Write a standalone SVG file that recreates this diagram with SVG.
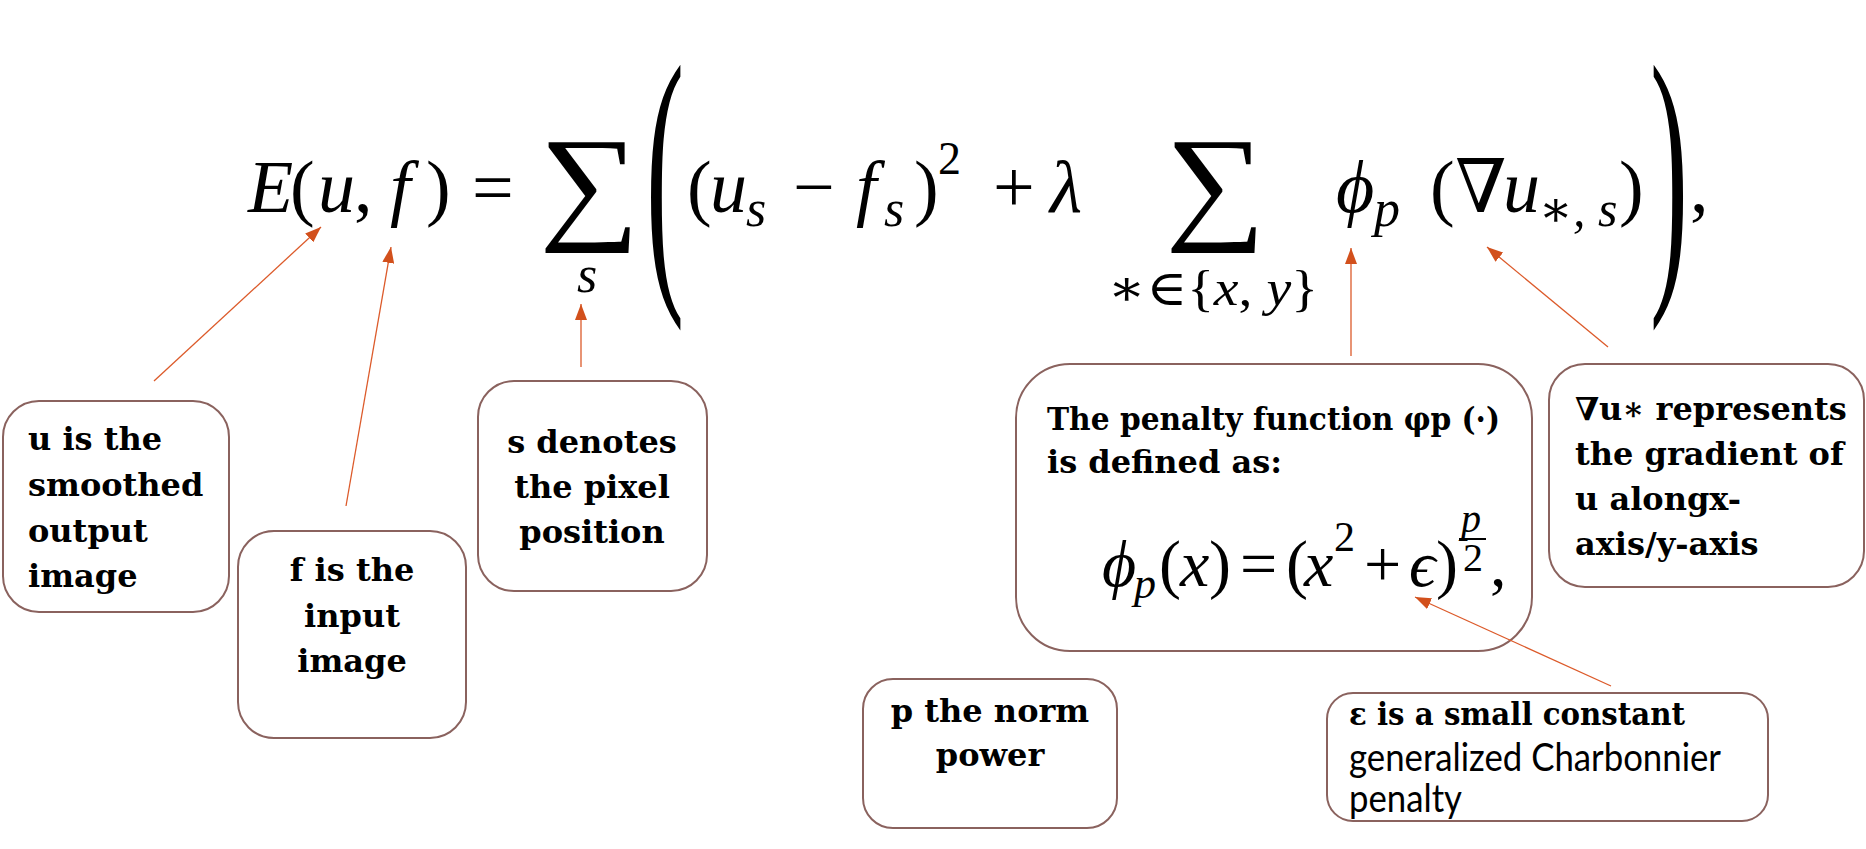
<svg xmlns="http://www.w3.org/2000/svg" width="1866" height="849" viewBox="0 0 1866 849">
<style>
.box{fill:#fff;stroke:#8a625e;stroke-width:2}
.lbl{font-family:"DejaVu Serif",serif;font-size:32px;font-weight:bold;fill:#000}
.sans{font-family:"Lato","Open Sans",sans-serif;font-size:38px;fill:#000}
.m{font-family:"Liberation Serif","DejaVu Serif",serif;fill:#000}
.i{font-style:italic}
.conn{stroke:#dc5a2a;stroke-width:1.3;fill:none;marker-end:url(#ah)}
</style>
<defs>
<marker id="ah" viewBox="0 0 16 12" refX="16" refY="6" markerWidth="16" markerHeight="12" markerUnits="userSpaceOnUse" orient="auto">
<path d="M0,0 L16,6 L0,12 z" fill="#d2501c"/>
</marker>
</defs>
<rect width="1866" height="849" fill="#fff"/>

<g id="formula" class="m">
<text font-size="74" y="212">
<tspan class="i" x="248">E</tspan><tspan x="290">(</tspan><tspan class="i" x="318">u</tspan><tspan x="354">,</tspan><tspan class="i" x="390">f</tspan><tspan x="426">)</tspan><tspan x="472">=</tspan>
<tspan x="687">(</tspan><tspan class="i" x="710">u</tspan><tspan x="793">−</tspan><tspan class="i" x="856">f</tspan><tspan x="914">)</tspan><tspan x="993">+</tspan><tspan class="i" x="1050">λ</tspan>
<tspan class="i" x="1336">ϕ</tspan><tspan x="1430">(</tspan><tspan x="1455">∇</tspan><tspan class="i" x="1503">u</tspan><tspan x="1619">)</tspan><tspan x="1690">,</tspan>
</text>
<text font-size="52" y="226" class="i"><tspan x="746">s</tspan><tspan x="884">s</tspan><tspan x="1374">p</tspan></text>
<text font-size="50" y="226" x="1539" class="i">∗, s</text>
<text font-size="46" y="174" x="938">2</text>
<text font-size="128" transform="translate(539,226) scale(1.1,1)">∑</text>
<text font-size="128" transform="translate(1165,226) scale(1.1,1)">∑</text>
<text font-size="52" x="577" y="292" class="i">s</text>
<text font-size="50" x="1108" y="305" textLength="210" lengthAdjust="spacingAndGlyphs">∗∈{<tspan class="i">x</tspan>, <tspan class="i">y</tspan>}</text>
<text font-size="293" transform="translate(646,268) scale(0.39,1)">(</text>
<text font-size="293" transform="translate(1650,268) scale(0.39,1)">)</text>
</g>

<g id="node-u">
<rect class="box" x="3" y="401" width="226" height="211" rx="36"/>
<text class="lbl" x="28"><tspan y="450">u is the</tspan><tspan x="28" y="496">smoothed</tspan><tspan x="28" y="542">output</tspan><tspan x="28" y="587">image</tspan></text>
</g>

<g id="node-f">
<rect class="box" x="238" y="531" width="228" height="207" rx="36"/>
<text class="lbl" text-anchor="middle" x="352"><tspan y="581">f is the</tspan><tspan x="352" y="627">input</tspan><tspan x="352" y="672">image</tspan></text>
</g>

<g id="node-s">
<rect class="box" x="478" y="381" width="229" height="210" rx="36"/>
<text class="lbl" text-anchor="middle" x="592"><tspan y="453">s denotes</tspan><tspan x="592" y="498">the pixel</tspan><tspan x="592" y="543">position</tspan></text>
</g>

<g id="node-penalty">
<rect class="box" x="1016" y="364" width="516" height="287" rx="54"/>
<text class="lbl" x="1047" y="430" textLength="453" lengthAdjust="spacingAndGlyphs">The penalty function φp (·)</text>
<text class="lbl" x="1047" y="473">is defined as:</text>
<g class="m">
<text font-size="66" y="586"><tspan class="i" x="1102">ϕ</tspan><tspan x="1159">(</tspan><tspan class="i" x="1180">x</tspan><tspan x="1209">)</tspan><tspan x="1240">=</tspan><tspan x="1286">(</tspan><tspan class="i" x="1304">x</tspan><tspan x="1364">+</tspan><tspan class="i" x="1409">ϵ</tspan><tspan x="1436">)</tspan><tspan x="1490">,</tspan></text>
<text font-size="44" y="598" x="1134" class="i">p</text>
<text font-size="42" y="551" x="1334">2</text>
<text font-size="40" y="532" x="1461" class="i">p</text>
<text font-size="40" y="571" x="1463">2</text>
<line x1="1459" y1="539" x2="1486" y2="539" stroke="#000" stroke-width="2"/>
</g>
</g>

<g id="node-grad">
<rect class="box" x="1549" y="364" width="315" height="223" rx="36"/>
<text class="lbl" x="1575"><tspan y="420">∇u∗ represents</tspan><tspan x="1575" y="465">the gradient of</tspan><tspan x="1575" y="510">u alongx-</tspan><tspan x="1575" y="555">axis/y-axis</tspan></text>
</g>

<g id="node-p">
<rect class="box" x="863" y="679" width="254" height="149" rx="30"/>
<text class="lbl" text-anchor="middle" x="990"><tspan y="722">p the norm</tspan><tspan x="990" y="766">power</tspan></text>
</g>

<g id="node-eps">
<rect class="box" x="1327" y="693" width="441" height="128" rx="26"/>
<text class="lbl" x="1349" y="725" textLength="336" lengthAdjust="spacingAndGlyphs">ε is a small constant</text>
<text class="sans" x="1349" y="771" textLength="372" lengthAdjust="spacingAndGlyphs">generalized Charbonnier</text>
<text class="sans" x="1349" y="812" textLength="113" lengthAdjust="spacingAndGlyphs">penalty</text>
</g>

<g id="connectors">
<line class="conn" x1="154" y1="381" x2="321" y2="227"/>
<line class="conn" x1="346" y1="506" x2="391" y2="247"/>
<line class="conn" x1="581" y1="367" x2="581" y2="304"/>
<line class="conn" x1="1351" y1="356" x2="1351" y2="248"/>
<line class="conn" x1="1608" y1="347" x2="1487" y2="247"/>
<line class="conn" x1="1611" y1="686" x2="1415" y2="597"/>
</g>
</svg>
